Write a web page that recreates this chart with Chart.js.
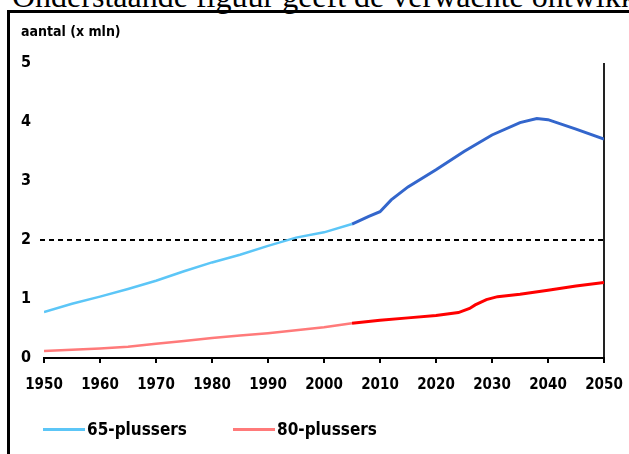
<!DOCTYPE html>
<html lang="nl">
<head>
<meta charset="utf-8">
<title>Aantal 65-plussers en 80-plussers</title>
<script src="https://cdn.jsdelivr.net/npm/chart.js@4/dist/chart.umd.min.js"></script>
<style>
  html, body { margin: 0; padding: 0; background: #fff; overflow: hidden; }
  body { width: 629px; height: 454px; position: relative; }
  #intro {
    position: absolute; left: 12px; top: -19px;
    font-family: "Liberation Serif", "Times New Roman", serif;
    font-size: 32px; line-height: 31px; white-space: nowrap; color: #000;
  }
  #frame {
    position: absolute; left: 7px; top: 10px; width: 660px; height: 480px;
    border-left: 3px solid #000; border-top: 3px solid #000;
  }
  #wrap { position: absolute; left: 10px; top: 13px; width: 619px; height: 441px; }
  #legend { position: absolute; left: 0; top: 0; }
  .item { position: absolute; display: flex; align-items: center; white-space: nowrap;
    font-family: "DejaVu Sans Condensed", "Liberation Sans Narrow", sans-serif;
    font-weight: bold; font-size: 17px; color: #000; }
  .swatch { width: 42px; height: 3px; margin-right: 2px; }
</style>
</head>
<body>
<div id="intro">Onderstaande figuur geeft de verwachte ontwikkeling</div>
<div id="frame"></div>
<div id="wrap"><canvas id="chart" width="619" height="441"></canvas></div>
<div id="legend"></div>
<script>
// Aantal ouderen in Nederland (x mln): waarneming tot 2005, prognose daarna
const years65Hist = [1950, 1955, 1960, 1965, 1970, 1975, 1980, 1985, 1990, 1995, 2000, 2005];
const vals65Hist  = [0.78, 0.92, 1.04, 1.17, 1.31, 1.47, 1.62, 1.75, 1.90, 2.04, 2.13, 2.27];
const years65Proj = [2005, 2008, 2010, 2012, 2015, 2020, 2025, 2030, 2035, 2038, 2040, 2045, 2050];
const vals65Proj  = [2.27, 2.40, 2.48, 2.68, 2.90, 3.19, 3.50, 3.78, 3.99, 4.06, 4.04, 3.88, 3.71];

const years80Hist = [1950, 1955, 1960, 1965, 1970, 1975, 1980, 1985, 1990, 1995, 2000, 2005];
const vals80Hist  = [0.12, 0.14, 0.16, 0.19, 0.24, 0.29, 0.34, 0.38, 0.42, 0.47, 0.52, 0.59];
const years80Proj = [2005, 2010, 2015, 2020, 2024, 2026, 2027, 2029, 2031, 2035, 2040, 2045, 2050];
const vals80Proj  = [0.59, 0.64, 0.68, 0.72, 0.77, 0.84, 0.90, 0.99, 1.04, 1.08, 1.15, 1.22, 1.28];

const seriesLabels = ['65-plussers', '80-plussers'];
const yTitle = 'aantal (x mln)';
const referenceLevel = 2;

const COL65 = '#5cc6f7', COL65P = '#3366cc';
const COL80 = '#ff7a7a', COL80P = '#ff0000';
const TICK_FONT = { family: '"DejaVu Sans Condensed", "Liberation Sans Narrow", sans-serif', weight: 'bold' };

const pts = (xs, ys) => xs.map((x, i) => ({ x, y: ys[i] }));

// Dashed reference line at the 2 million level
const refLine = {
  id: 'refLine',
  beforeDatasetsDraw(chart) {
    const { ctx, chartArea, scales } = chart;
    const y = scales.y.getPixelForValue(referenceLevel);
    ctx.save();
    ctx.strokeStyle = '#000';
    ctx.lineWidth = 2;
    ctx.setLineDash([5, 4]);
    ctx.beginPath();
    ctx.moveTo(chartArea.left - 4, y);
    ctx.lineTo(chartArea.right, y);
    ctx.stroke();
    ctx.restore();
  }
};

const chart = new Chart(document.getElementById('chart'), {
  type: 'line',
  data: {
    datasets: [
      { label: seriesLabels[0], data: pts(years65Hist, vals65Hist), borderColor: COL65, borderWidth: 2.5 },
      { label: seriesLabels[1], data: pts(years80Hist, vals80Hist), borderColor: COL80, borderWidth: 2.5 },
      { label: seriesLabels[0] + ' (prognose)', data: pts(years65Proj, vals65Proj), borderColor: COL65P, borderWidth: 3 },
      { label: seriesLabels[1] + ' (prognose)', data: pts(years80Proj, vals80Proj), borderColor: COL80P, borderWidth: 3 }
    ]
  },
  options: {
    responsive: false,
    animation: false,
    elements: { point: { radius: 0 }, line: { tension: 0, fill: false } },
    layout: { padding: { left: 11, top: 9, right: 25, bottom: 0 } },
    plugins: {
      legend: { display: false },
      tooltip: { enabled: false },
      title: {
        display: true, text: yTitle, align: 'start', color: '#000',
        font: { ...TICK_FONT, size: 14 }, padding: { top: 2, bottom: 22.2 }
      }
    },
    scales: {
      x: {
        type: 'linear', min: 1950, max: 2050,
        afterFit(s) { s.height = 96; s.paddingLeft = 0; s.paddingRight = 0; },
        ticks: { stepSize: 10, color: '#000', font: { ...TICK_FONT, size: 15 }, padding: 13,
                 maxRotation: 0, autoSkip: false, callback: v => String(v) },
        grid: {
          color: c => (c.tick && c.tick.value === 2050) ? '#222' : 'rgba(0,0,0,0)',
          lineWidth: 2, tickColor: '#000', tickLength: 5, tickWidth: 2
        },
        border: { display: true, color: '#000', width: 2 }
      },
      y: {
        min: 0, max: 5,
        afterFit(s) { s.width = 23; s.paddingTop = 0; s.paddingBottom = 0; },
        ticks: { stepSize: 1, color: '#000', font: { ...TICK_FONT, size: 16 }, crossAlign: 'far', padding: 0 },
        grid: { display: false },
        border: { display: false }
      }
    }
  },
  plugins: [refLine]
});

// Legend with the two series
const legend = document.getElementById('legend');
[[COL65, seriesLabels[0], 43], [COL80, seriesLabels[1], 233]].forEach(([col, txt, left]) => {
  const el = document.createElement('div');
  el.className = 'item';
  el.style.left = left + 'px';
  el.style.top = '419px';
  const sw = document.createElement('span');
  sw.className = 'swatch';
  sw.style.background = col;
  el.appendChild(sw);
  el.appendChild(document.createTextNode(txt));
  legend.appendChild(el);
});
</script>
</body>
</html>
